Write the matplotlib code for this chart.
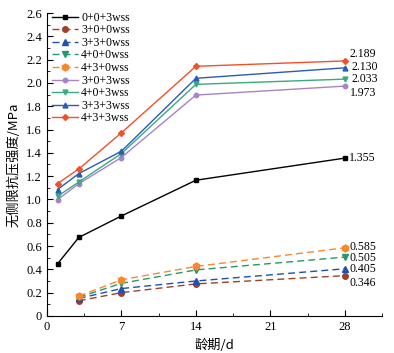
import matplotlib
matplotlib.use("Agg")
import matplotlib.pyplot as plt
from matplotlib.ticker import MultipleLocator

days = [1, 3, 7, 14, 28]
days_nf = [3, 7, 14, 28]

s_0_0_3 = [0.447, 0.674, 0.858, 1.165, 1.355]
s_3_0_0 = [0.13, 0.20, 0.275, 0.346]
s_3_3_0 = [0.15, 0.235, 0.30, 0.405]
s_4_0_0 = [0.16, 0.28, 0.395, 0.505]
s_4_3_0 = [0.17, 0.31, 0.425, 0.585]
s_3_0_3 = [0.998, 1.135, 1.36, 1.896, 1.973]
s_4_0_3 = [1.027, 1.15, 1.394, 1.988, 2.033]
s_3_3_3 = [1.085, 1.222, 1.414, 2.04, 2.130]
s_4_3_3 = [1.136, 1.262, 1.572, 2.143, 2.189]

labels = ["0+0+3wss", "3+0+0wss", "3+3+0wss", "4+0+0wss", "4+3+0wss",
          "3+0+3wss", "4+0+3wss", "3+3+3wss", "4+3+3wss"]
end_labels = ["1.355", "0.346", "0.405", "0.505", "0.585", "1.973", "2.033", "2.130", "2.189"]

plt.rcParams['font.family'] = ['Liberation Serif', 'Noto Sans CJK SC']

fig = plt.figure(figsize=(3.94, 3.53), dpi=100)
ax = fig.add_axes([0.119, 0.105, 0.851, 0.858])

series = [
    (days, s_0_0_3, '#000000', 's', '-', 3.2),
    (days_nf, s_3_0_0, '#a0402a', 'o', (0, (5, 3)), 4.0),
    (days_nf, s_3_3_0, '#1f50b0', '^', (0, (5, 3)), 4.0),
    (days_nf, s_4_0_0, '#239a6a', 'v', (0, (5, 3)), 4.0),
    (days_nf, s_4_3_0, '#f7882e', 'h', (0, (5, 3)), 5.0),
    (days, s_3_0_3, '#a783cc', 'o', '-', 3.2),
    (days, s_4_0_3, '#3aaa82', 'v', '-', 3.5),
    (days, s_3_3_3, '#2a5bb5', '^', '-', 3.5),
    (days, s_4_3_3, '#f2502a', 'D', '-', 3.0),
]
for (x, y, c, m, ls, ms), lab in zip(series, labels):
    ax.plot(x, y, color=c, marker=m, linestyle=ls, linewidth=1.0,
            markersize=ms, label=lab)

offsets = {"1.355": (3, 0), "0.346": (3, -5), "0.405": (3, -0.5), "0.505": (3, -0.5),
           "0.585": (3, 0.5), "1.973": (3.5, -5), "2.033": (5, 0), "2.130": (5, 0.5),
           "2.189": (3, 5)}
for (x, y, c, m, ls, ms), txt in zip(series, end_labels):
    dx, dy = offsets[txt]
    ax.annotate(txt, (x[-1], y[-1]), xytext=(dx, dy), textcoords='offset points',
                fontsize=8.5, va='center', ha='left')

ax.set_xlim(0, 31.5)
ax.set_ylim(0, 2.6)
ax.xaxis.set_major_locator(MultipleLocator(7))
ax.xaxis.set_minor_locator(MultipleLocator(3.5))
ax.yaxis.set_minor_locator(MultipleLocator(0.1))
ax.set_yticks([0, 0.2, 0.4, 0.6, 0.8, 1.0, 1.2, 1.4, 1.6, 1.8, 2.0, 2.2, 2.4, 2.6])
ax.set_yticklabels(["0", "0.2", "0.4", "0.6", "0.8", "1.0", "1.2", "1.4", "1.6",
                    "1.8", "2.0", "2.2", "2.4", "2.6"])
ax.tick_params(which='both', direction='in', labelsize=9)
ax.tick_params(which='major', length=4)
ax.tick_params(which='minor', length=2)
ax.spines['top'].set_visible(False)
ax.spines['right'].set_visible(False)

ax.set_ylabel('无侧限抗压强度/MPa', fontsize=9.5, family=['Noto Sans CJK SC', 'DejaVu Sans'])
ax.set_xlabel('龄期/d', fontsize=9.5, family=['Noto Sans CJK SC', 'DejaVu Sans'])

ax.legend(loc='upper left', frameon=False, fontsize=8.5, handlelength=2.2,
          labelspacing=0.05, borderaxespad=0.0, borderpad=0.4, handletextpad=0.3,
          bbox_to_anchor=(0.0, 1.02))

fig.savefig('out.png', dpi=100, facecolor='white')
